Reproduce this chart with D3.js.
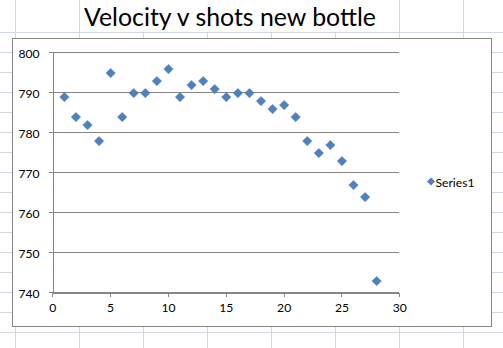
<!DOCTYPE html>
<html>
<head>
<meta charset="utf-8">
<script src="https://cdn.jsdelivr.net/npm/d3@7"></script>
<style>
  html, body { margin: 0; padding: 0; background: #ffffff; }
  svg { display: block; }
  text { font-family: Lato, "Open Sans", sans-serif; fill: #000; }
</style>
</head>
<body>
<svg id="chart" width="503" height="348"></svg>
<script>
// ---- data ----
const shots = [1,2,3,4,5,6,7,8,9,10,11,12,13,14,15,16,17,18,19,20,21,22,23,24,25,26,27,28];
const velocity = [789,784,782,778,795,784,790,790,793,796,789,792,793,791,789,790,790,788,786,787,784,778,775,777,773,767,764,743];
const xTicks = [0,5,10,15,20,25,30];
const yTicks = [740,750,760,770,780,790,800];
const seriesName = "Series1";
const chartTitle = "Velocity v shots new bottle";

const W = 503, H = 348;
const svg = d3.select("#chart");

// ---- spreadsheet background gridlines ----
const sheetGrid = svg.append("g").attr("stroke", "#d0d7e5").attr("stroke-width", 1).attr("shape-rendering", "crispEdges");
const colXs = [15, 79, 143, 207, 271, 335, 399, 463];
const mergedInterior = [143, 207, 271, 335]; // hidden in merged title cell
colXs.forEach(x => {
  const y0 = mergedInterior.includes(x) ? 32 : 0;
  sheetGrid.append("line").attr("x1", x + 0.5).attr("x2", x + 0.5).attr("y1", y0).attr("y2", H);
});
d3.range(32, H, 20).forEach(y => {
  sheetGrid.append("line").attr("x1", 0).attr("x2", W).attr("y1", y + 0.5).attr("y2", y + 0.5);
});

// ---- title ----
const title = svg.append("text")
  .attr("x", 230).attr("y", 26)
  .attr("text-anchor", "middle")
  .style("font-size", "26.67px")
  .text(chartTitle);
const tw = title.node().getComputedTextLength();
title.style("font-size", (26.67 * 292 / tw) + "px");

// ---- chart area ----
svg.append("rect")
  .attr("x", 12.5).attr("y", 38.5).attr("width", 479).attr("height", 288)
  .attr("fill", "#ffffff").attr("stroke", "#868686").attr("stroke-width", 1);

// font scale from legend label width (Calibri 10pt equivalent)
const probe = svg.append("text").style("font-size", "13.33px").text(seriesName);
const fontScale = 39 / probe.node().getComputedTextLength();
probe.remove();
const labelSize = 13.33 * fontScale;

const x = d3.scaleLinear().domain([0, 30]).range([52.3, 399.3]);
const y = d3.scaleLinear().domain([740, 800]).range([292.3, 52.3]);

// horizontal gridlines
const grid = svg.append("g").attr("shape-rendering", "crispEdges");
grid.selectAll("line").data(yTicks).join("line")
  .attr("x1", x(0)).attr("x2", x(30))
  .attr("y1", d => Math.round(y(d)) + 0.5).attr("y2", d => Math.round(y(d)) + 0.5)
  .attr("stroke", "#868686");

// y axis
const yAxis = svg.append("g")
  .attr("transform", `translate(${Math.round(x(0)) + 0.5},0)`)
  .call(d3.axisLeft(y).tickValues(yTicks).tickSize(4).tickPadding(9).tickSizeOuter(0).tickFormat(d3.format("d")));
yAxis.selectAll("path, line").attr("stroke", "#868686").attr("shape-rendering", "crispEdges");
yAxis.selectAll("text").style("font-size", labelSize + "px").style("font-family", "Lato, sans-serif").attr("fill", "#000").attr("dy", "0.4em");
yAxis.attr("font-family", null).attr("font-size", null);

// x axis
const xAxis = svg.append("g")
  .attr("transform", `translate(0,${Math.round(y(740)) + 0.5})`)
  .call(d3.axisBottom(x).tickValues(xTicks).tickSize(4).tickPadding(7).tickSizeOuter(0).tickFormat(d3.format("d")));
xAxis.selectAll("path, line").attr("stroke", "#868686").attr("shape-rendering", "crispEdges");
xAxis.selectAll("text").style("font-size", labelSize + "px").style("font-family", "Lato, sans-serif").attr("fill", "#000");
xAxis.attr("font-family", null).attr("font-size", null);

// diamond symbol
const diamond = {
  draw(ctx, size) {
    const r = Math.sqrt(size / 2);
    ctx.moveTo(0, -r); ctx.lineTo(r, 0); ctx.lineTo(0, r); ctx.lineTo(-r, 0); ctx.closePath();
  }
};
const sym = d3.symbol().type(diamond).size(2 * 4.7 * 4.7);

// points
svg.append("g").selectAll("path").data(shots.map((s, i) => ({s, v: velocity[i]}))).join("path")
  .attr("transform", d => `translate(${x(d.s) + 0.5},${y(d.v) + 0.8})`)
  .attr("d", sym)
  .attr("fill", "#4f81bd")
  .attr("stroke", "#4a7ab5").attr("stroke-width", 0.5);

// legend
const leg = svg.append("g");
leg.append("path")
  .attr("transform", "translate(431,181.5)")
  .attr("d", d3.symbol().type(diamond).size(2 * 4 * 4))
  .attr("fill", "#4f81bd");
leg.append("text").attr("x", 435.5).attr("y", 186.5)
  .style("font-size", labelSize + "px").text(seriesName);
</script>
</body>
</html>
